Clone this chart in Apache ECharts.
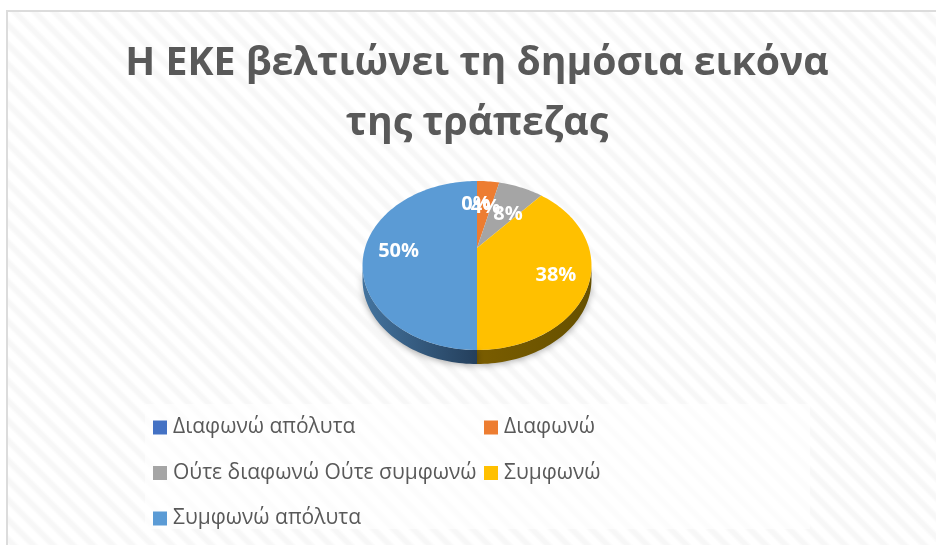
<!DOCTYPE html>
<html><head><meta charset="utf-8">
<style>
html,body{margin:0;padding:0;width:936px;height:545px;overflow:hidden;background:#fff}
#bg{position:absolute;left:6px;top:10px;width:940px;height:545px;box-sizing:border-box;border:2px solid #dcdcdc;
background:repeating-linear-gradient(45deg,#fff 0 5px,#f7f7f7 8px 11px,#fff 14px)}
#c{position:absolute;left:0;top:0;width:936px;height:545px}
</style>
<script src="https://cdn.jsdelivr.net/npm/echarts@6/dist/echarts.min.js"></script>
</head><body><div id="bg"></div><div id="c"></div>
<script>
const titleText = 'Η ΕΚΕ βελτιώνει τη δημόσια εικόνα\nτης τράπεζας';
const categories = ['Διαφωνώ απόλυτα','Διαφωνώ','Ούτε διαφωνώ Ούτε συμφωνώ','Συμφωνώ','Συμφωνώ απόλυτα'];
const responses = [0,1,2,10,13];
const colors = ['#4472c4','#ed7d31','#a5a5a5','#ffc000','#5b9bd5'];

const total = responses.reduce((a,b)=>a+b,0);
const FONT = '"Open Sans",sans-serif';
// projective view of the pie disc
const view = {cx:477, apexY:248, a:80.9, b:112, k:0.207, depth:14};
const labelRadius = [0.62,0.62,0.62,0.74,0.7];
const labelShift = [[-1,1],[1,3],[2,6],[-3,5],[0,3]];
const wallFill = [
  null,null,null,
  new echarts.graphic.LinearGradient(0,0,1,0,[{offset:0,color:'#7a5d00'},{offset:1,color:'#665000'}]),
  new echarts.graphic.LinearGradient(0,0,1,0,[{offset:0,color:'#44749f'},{offset:1,color:'#243f5c'}])
];
function project(f,r){
  const t=f*2*Math.PI, x=r*Math.sin(t), y=r*Math.cos(t), w=1+view.k*y;
  return [view.cx+view.b*x/w, view.apexY-view.a*y/w];
}
function arc(f0,f1){
  const pts=[], n=Math.max(2,Math.ceil((f1-f0)*240));
  for(let i=0;i<=n;i++) pts.push(project(f0+(f1-f0)*i/n,1));
  return pts;
}
function sliceSeries(idx){
  const start=responses.slice(0,idx).reduce((a,b)=>a+b,0)/total;
  return {
    name:categories[idx], type:'custom', coordinateSystem:'none',
    data:[responses[idx]], itemStyle:{color:colors[idx]}, silent:true,
    renderItem(params,api){
      const frac=api.value(0)/total, end=start+frac, children=[];
      const f0=Math.max(start,0.283), f1=Math.min(end,0.717);
      if(frac>0 && f1>f0 && wallFill[idx]){
        const top=arc(f0,f1);
        const bottom=top.map(p=>[p[0],p[1]+view.depth]).reverse();
        children.push({type:'polygon',shape:{points:top.concat(bottom)},
          style:{fill:wallFill[idx],shadowBlur:7,shadowColor:'rgba(0,0,0,0.35)',shadowOffsetY:1}});
      }
      if(frac>0){
        children.push({type:'polygon',shape:{points:[[view.cx,view.apexY]].concat(arc(start,end))},
          style:{fill:api.visual('color')}});
      }
      const p=project(start+frac/2,labelRadius[idx]);
      children.push({type:'text',z2:100,style:{text:Math.round(frac*100)+'%',x:p[0]+labelShift[idx][0],y:p[1]+labelShift[idx][1],
        fill:'#fff',font:'bold 20px '+FONT,align:'center',verticalAlign:'middle'}});
      return {type:'group',children};
    }
  };
}
const legendBase={orient:'vertical',icon:'rect',itemWidth:14,itemHeight:14,itemGap:16.5,
  textStyle:{fontFamily:FONT,fontSize:21,lineHeight:29,color:'#595959',padding:[0,0,0,1]},selectedMode:false,padding:0};
const chart=echarts.init(document.getElementById('c'),null,{renderer:'canvas'});
chart.setOption({
  animation:false,
  title:{text:titleText,left:472,top:29,textAlign:'center',
    textStyle:{fontFamily:FONT,fontWeight:'bold',fontSize:39.2,lineHeight:60,color:'#595959'}},
  graphic:[{type:'rect',z:-1,shape:{x:145,y:404,width:665,height:125},style:{fill:'rgba(255,255,255,0.65)'},silent:true}],
  legend:[
    Object.assign({},legendBase,{left:153,top:413,data:[categories[0],categories[2],categories[4]]}),
    Object.assign({},legendBase,{left:484,top:413,data:[categories[1],categories[3]]})
  ],
  series:responses.map((_,i)=>sliceSeries(i))
});
</script></body></html>
